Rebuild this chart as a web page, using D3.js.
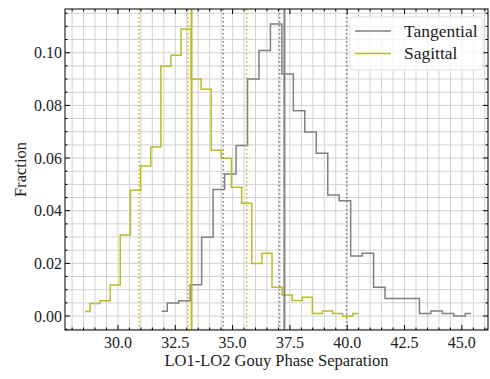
<!DOCTYPE html>
<html>
<head>
<meta charset="utf-8">
<script src="https://cdn.jsdelivr.net/npm/d3@7"></script>
<style>
  body { margin: 0; background: #fff; }
  svg { display: block; }
  text { font-family: "Liberation Serif", "Times New Roman", serif; fill: #222; }
</style>
</head>
<body>
<svg id="chart" width="490" height="379"></svg>
<script>
// Bin centres and fractions for the two Gouy phase separation distributions
const sagittalCenters = [28.56, 29.00, 29.44, 29.88, 30.32, 30.77, 31.21, 31.65, 32.09, 32.53,
  32.97, 33.41, 33.85, 34.29, 34.73, 35.17, 35.62, 36.06, 36.50, 36.94,
  37.38, 37.82, 38.26, 38.70, 39.14, 39.58, 40.02, 40.47];
const sagittalFraction = [0.0017, 0.0048, 0.0058, 0.0118, 0.0308, 0.0478, 0.0570, 0.0642, 0.0949, 0.0990,
  0.1090, 0.0900, 0.0861, 0.0630, 0.0599, 0.0489, 0.0428, 0.0200, 0.0238, 0.0109,
  0.0080, 0.0059, 0.0071, 0.0010, 0.0019, 0.0010, 0.0000, 0.0010];

const tangentialCenters = [31.9, 32.4, 32.9, 33.4, 33.9, 34.4, 34.9, 35.4, 35.9, 36.4,
  36.9, 37.4, 37.9, 38.4, 38.9, 39.4, 39.9, 40.4, 40.9, 41.4,
  41.9, 42.4, 42.9, 43.4, 43.9, 44.4, 44.9, 45.4];
const tangentialFraction = [0.0018, 0.0050, 0.0058, 0.0119, 0.0299, 0.0481, 0.0539, 0.0648, 0.0900, 0.1008,
  0.1109, 0.0919, 0.0780, 0.0699, 0.0618, 0.0460, 0.0438, 0.0228, 0.0238, 0.0109,
  0.0067, 0.0067, 0.0067, 0.0010, 0.0019, 0.0010, 0.0000, 0.0010];

// Mean (solid) and percentile markers (dotted)
const sagittalMean = 33.21;
const sagittalPercentiles = [30.92, 33.05, 35.61];
const tangentialMean = 37.26;
const tangentialPercentiles = [34.59, 37.05, 39.97];

// Axis ticks
const xTickValues = [30, 32.5, 35, 37.5, 40, 42.5, 45];
const yTickValues = [0, 0.02, 0.04, 0.06, 0.08, 0.10];

const seriesNames = ["Tangential", "Sagittal"];
const colors = { Tangential: "#808080", Sagittal: "#bcbd22" };

const svg = d3.select("#chart");
const margin = { left: 65, right: 2, top: 9, bottom: 49 };
const W = 490, H = 379;
const x0 = margin.left, x1 = W - margin.right, y0 = margin.top, y1 = H - margin.bottom;

const x = d3.scaleLinear().domain([27.69, 46.14]).range([x0, x1]);
const y = d3.scaleLinear().domain([-0.0053, 0.1166]).range([y1, y0]);

const xMinor = d3.range(28, 46.01, 0.5).filter(v => v > x.domain()[0] && v < x.domain()[1]);
const yMinor = d3.range(-0.005, 0.1151, 0.005).map(v => +v.toFixed(4)).filter(v => v > y.domain()[0] && v < y.domain()[1]);

const defs = svg.append("defs");
defs.append("clipPath").attr("id", "plotClip")
  .append("rect").attr("x", x0).attr("y", y0).attr("width", x1 - x0).attr("height", y1 - y0);

// Grid
const grid = svg.append("g").attr("stroke", "#d2d2d2").attr("stroke-width", 1);
grid.selectAll("line.vx").data(xMinor).join("line")
  .attr("x1", d => x(d)).attr("x2", d => x(d)).attr("y1", y0).attr("y2", y1);
grid.selectAll("line.hy").data(yMinor).join("line")
  .attr("y1", d => y(d)).attr("y2", d => y(d)).attr("x1", x0).attr("x2", x1);

const plot = svg.append("g").attr("clip-path", "url(#plotClip)");

// Step histograms (step changes midway between bin centres)
const stepLine = d3.line().x(d => x(d[0])).y(d => y(d[1])).curve(d3.curveStep);
plot.append("path")
  .datum(d3.zip(tangentialCenters, tangentialFraction))
  .attr("d", stepLine).attr("fill", "none")
  .attr("stroke", colors.Tangential).attr("stroke-width", 1.5);
plot.append("path")
  .datum(d3.zip(sagittalCenters, sagittalFraction))
  .attr("d", stepLine).attr("fill", "none")
  .attr("stroke", colors.Sagittal).attr("stroke-width", 1.5);

// Vertical markers
function vline(v, color, dotted) {
  plot.append("line")
    .attr("x1", x(v)).attr("x2", x(v)).attr("y1", y0).attr("y2", y1)
    .attr("stroke", color)
    .attr("stroke-width", dotted ? 1.5 : 2)
    .attr("stroke-dasharray", dotted ? "1.5,2.5" : null);
}
tangentialPercentiles.forEach(v => vline(v, colors.Tangential, true));
vline(tangentialMean, colors.Tangential, false);
sagittalPercentiles.forEach(v => vline(v, colors.Sagittal, true));
vline(sagittalMean, colors.Sagittal, false);

// Frame and inward ticks on all sides
const axes = svg.append("g").attr("stroke", "#000");
axes.append("rect").attr("x", x0).attr("y", y0).attr("width", x1 - x0).attr("height", y1 - y0)
  .attr("fill", "none").attr("stroke-width", 1);

const isMajorX = v => xTickValues.some(t => Math.abs(t - v) < 1e-6);
const isMajorY = v => yTickValues.some(t => Math.abs(t - v) < 1e-6);
xMinor.forEach(v => {
  const len = isMajorX(v) ? 5 : 2.5;
  axes.append("line").attr("x1", x(v)).attr("x2", x(v)).attr("y1", y1).attr("y2", y1 - len);
  axes.append("line").attr("x1", x(v)).attr("x2", x(v)).attr("y1", y0).attr("y2", y0 + len);
});
yMinor.forEach(v => {
  const len = isMajorY(v) ? 5 : 2.5;
  axes.append("line").attr("y1", y(v)).attr("y2", y(v)).attr("x1", x0).attr("x2", x0 + len);
  axes.append("line").attr("y1", y(v)).attr("y2", y(v)).attr("x1", x1).attr("x2", x1 - len);
});

// Tick labels
svg.append("g").selectAll("text").data(xTickValues).join("text")
  .attr("x", d => x(d)).attr("y", y1 + 18)
  .attr("text-anchor", "middle").attr("font-size", 16)
  .text(d => d3.format(".1f")(d));
svg.append("g").selectAll("text").data(yTickValues).join("text")
  .attr("x", x0 - 3).attr("y", d => y(d)).attr("dy", "0.35em")
  .attr("text-anchor", "end").attr("font-size", 16)
  .text(d => d3.format(".2f")(d));

// Axis titles
svg.append("text")
  .attr("x", (x0 + x1) / 2).attr("y", 366)
  .attr("text-anchor", "middle").attr("font-size", 16.5)
  .text("LO1-LO2 Gouy Phase Separation");
svg.append("text")
  .attr("transform", `translate(26,${(y0 + y1) / 2}) rotate(-90)`)
  .attr("text-anchor", "middle").attr("font-size", 16.5)
  .text("Fraction");

// Legend
const lg = svg.append("g");
lg.append("rect").attr("x", 350).attr("y", 17).attr("width", 133).attr("height", 53)
  .attr("rx", 3).attr("fill", "#fff").attr("fill-opacity", 0.8)
  .attr("stroke", "#e0e0e0").attr("stroke-width", 1);
seriesNames.forEach((name, i) => {
  const yy = 31 + i * 22.5;
  lg.append("line").attr("x1", 355).attr("x2", 391).attr("y1", yy).attr("y2", yy)
    .attr("stroke", colors[name]).attr("stroke-width", 1.5);
  lg.append("text").attr("x", 404).attr("y", yy).attr("dy", "0.33em")
    .attr("font-size", 17.5).text(name);
});
</script>
</body>
</html>
